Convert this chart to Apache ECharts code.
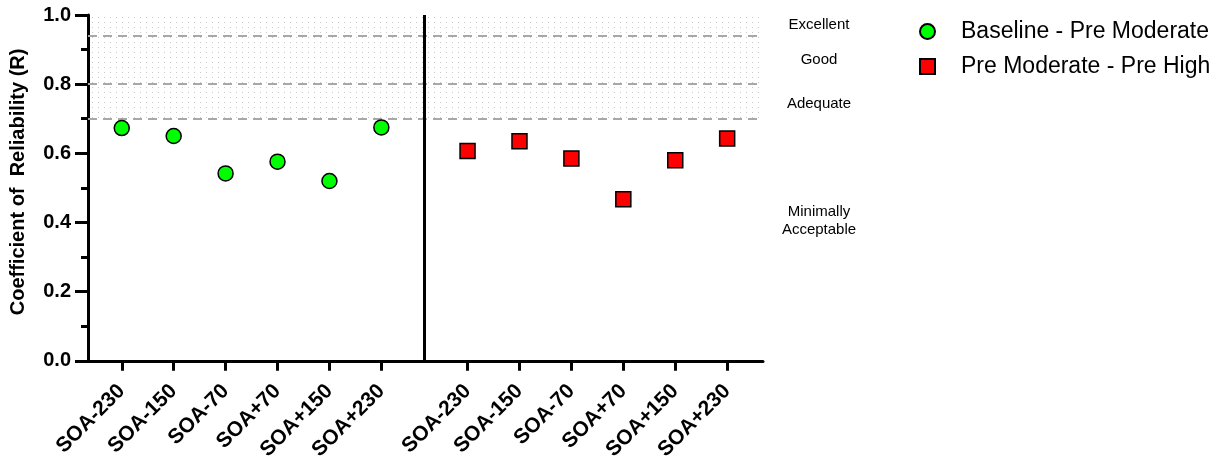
<!DOCTYPE html>
<html>
<head>
<meta charset="utf-8">
<script src="https://cdn.jsdelivr.net/npm/echarts@6/dist/echarts.min.js"></script>
<style>
  html, body { margin: 0; padding: 0; background: #fff; }
  #chart { width: 1228px; height: 463px; }
</style>
</head>
<body>
<div id="chart"></div>
<script>
// Time windows shown under each group
const categories = ['SOA-230', 'SOA-150', 'SOA-70', 'SOA+70', 'SOA+150', 'SOA+230'];
// Reliability coefficients per comparison
const baselinePreModerate = [0.673, 0.650, 0.542, 0.576, 0.520, 0.675];
const preModeratePreHigh = [0.607, 0.635, 0.585, 0.467, 0.580, 0.643];
// Reliability thresholds and their bands
const thresholds = [0.94, 0.8, 0.7];
const yTicks = [0, 0.2, 0.4, 0.6, 0.8, 1.0];

const FONT = '"Liberation Sans", Arial, sans-serif';

// Horizontal layout of the two groups on a shared value axis
const X_MAX = 13;
const LEFT_START = 0.65;
const RIGHT_START = 7.31;
const DIVIDER = 6.48;
const leftPos = categories.map((_, i) => LEFT_START + i);
const rightPos = categories.map((_, i) => RIGHT_START + i);
const allPos = leftPos.concat(rightPos);
const labelByPos = {};
leftPos.forEach((p, i) => { labelByPos[p.toFixed(2)] = categories[i]; });
rightPos.forEach((p, i) => { labelByPos[p.toFixed(2)] = categories[i]; });

// Light dotted fill for the upper reliability band
const dots = document.createElement('canvas');
dots.width = 6; dots.height = 5;
const dctx = dots.getContext('2d');
dctx.fillStyle = '#c8c8c8';
dctx.fillRect(2, 2, 1, 1);

const chart = echarts.init(document.getElementById('chart'), null, { renderer: 'canvas' });

chart.setOption({
  animation: false,
  textStyle: { fontFamily: FONT },
  grid: { left: 88, right: 465, top: 15, bottom: 101 },
  legend: {
    orient: 'vertical',
    left: 914,
    top: 15,
    itemWidth: 15,
    itemHeight: 15,
    itemGap: 12,
    textStyle: { fontSize: 23, color: '#000', fontFamily: FONT, padding: [0, 0, 0, 21] },
    data: [
      { name: 'Baseline - Pre Moderate', icon: 'circle' },
      { name: 'Pre Moderate - Pre High', icon: 'rect' }
    ]
  },
  xAxis: {
    type: 'value',
    min: 0,
    max: X_MAX,
    splitLine: { show: false },
    axisLine: { show: true, onZero: false, lineStyle: { color: '#000', width: 3 } },
    axisTick: { show: true, customValues: allPos, length: 10, lineStyle: { color: '#000', width: 3 } },
    axisLabel: {
      customValues: allPos,
      rotate: 45,
      margin: 27,
      fontSize: 21,
      fontWeight: 'bold',
      color: '#000',
      fontFamily: FONT,
      formatter: v => labelByPos[Number(v).toFixed(2)] || ''
    }
  },
  yAxis: {
    type: 'value',
    min: 0,
    max: 1,
    interval: 0.2,
    name: 'Coefficient of  Reliability (R)',
    nameLocation: 'middle',
    nameGap: 60,
    nameTextStyle: { fontSize: 20, fontWeight: 'bold', color: '#000', fontFamily: FONT, padding: [0, 0, 0, 12] },
    splitLine: { show: false },
    axisLine: { show: true, lineStyle: { color: '#000', width: 3 } },
    axisTick: { show: true, length: 13, lineStyle: { color: '#000', width: 3 } },
    minorTick: { show: true, splitNumber: 2, length: 7, lineStyle: { color: '#000', width: 3 } },
    axisLabel: {
      fontSize: 20,
      fontWeight: 'bold',
      color: '#000',
      margin: 17,
      fontFamily: FONT,
      customValues: yTicks,
      formatter: v => Number(v).toFixed(1)
    }
  },
  series: [
    {
      name: 'Baseline - Pre Moderate',
      type: 'scatter',
      symbol: 'circle',
      symbolSize: 15,
      z: 5,
      itemStyle: { color: '#00ff00', borderColor: '#000', borderWidth: 1.5, opacity: 1 },
      data: baselinePreModerate.map((v, i) => [leftPos[i], v]),
      markArea: {
        silent: true,
        z: 0,
        itemStyle: { color: { image: dots, repeat: 'repeat' } },
        data: [[{ yAxis: thresholds[2] }, { yAxis: 1 }]]
      },
      markLine: {
        silent: true,
        symbol: 'none',
        z: 1,
        label: { show: false },
        lineStyle: { color: '#a8a8a8', width: 2, type: [9, 6] },
        data: thresholds.map(t => ({ yAxis: t }))
      }
    },
    {
      name: 'Pre Moderate - Pre High',
      type: 'scatter',
      symbol: 'rect',
      symbolSize: 15,
      z: 5,
      itemStyle: { color: '#ff0000', borderColor: '#000', borderWidth: 1.5, opacity: 1 },
      data: preModeratePreHigh.map((v, i) => [rightPos[i], v]),
      markLine: {
        silent: true,
        symbol: 'none',
        z: 3,
        label: { show: false },
        lineStyle: { color: '#000', width: 3, type: 'solid' },
        data: [{ xAxis: DIVIDER }]
      }
    }
  ],
  graphic: [
    { type: 'text', x: 819, y: 25, style: { text: 'Excellent', textAlign: 'center', textVerticalAlign: 'middle', font: '15px ' + FONT, fill: '#000' } },
    { type: 'text', x: 819, y: 60, style: { text: 'Good', textAlign: 'center', textVerticalAlign: 'middle', font: '15px ' + FONT, fill: '#000' } },
    { type: 'text', x: 819, y: 104, style: { text: 'Adequate', textAlign: 'center', textVerticalAlign: 'middle', font: '15px ' + FONT, fill: '#000' } },
    { type: 'text', x: 819, y: 221, style: { text: 'Minimally\nAcceptable', textAlign: 'center', textVerticalAlign: 'middle', lineHeight: 18, font: '15px ' + FONT, fill: '#000' } }
  ]
});
</script>
</body>
</html>
